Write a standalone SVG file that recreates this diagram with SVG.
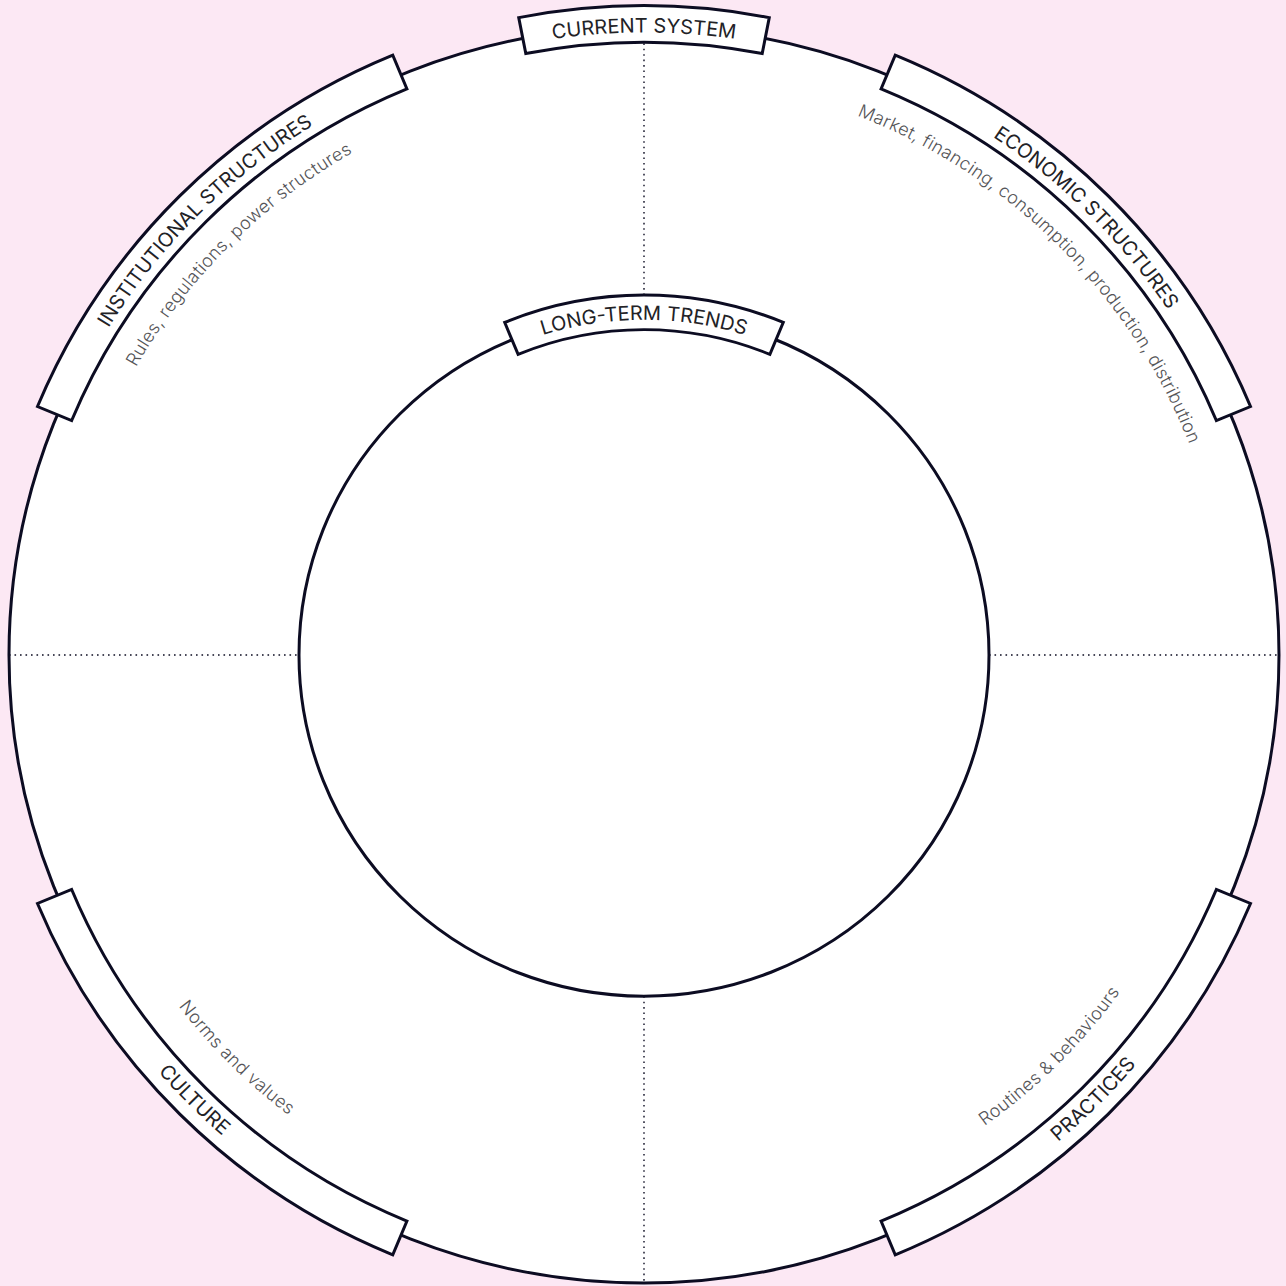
<svg xmlns="http://www.w3.org/2000/svg" width="1286" height="1286" viewBox="0 0 1286 1286">
<style>
.ring{fill:#fff;stroke:#0c0c22;stroke-width:3}
.band{fill:#fff;stroke:#0c0c22;stroke-width:3;stroke-linejoin:miter}
.dot{stroke:#0c0c22;stroke-width:1.4;stroke-dasharray:1.6 3.9;fill:none}
.lbl{font-family:Inter,'Liberation Sans',sans-serif;font-size:20px;fill:#222226}
.sub{font-family:Inter,'Liberation Sans',sans-serif;font-size:18px;font-weight:300;letter-spacing:0.3px;fill:#555558}
</style>
<defs>
<path id="p-cur" d="M -404.64 -482.23 A 629.5 629.5 0 0 1 404.64 -482.23"/>
<path id="p-inst" d="M -627.10 -54.87 A 629.5 629.5 0 0 1 -54.87 -627.10"/>
<path id="p-econ" d="M 54.87 -627.10 A 629.5 629.5 0 0 1 627.10 -54.87"/>
<path id="p-cult" d="M -640.85 56.07 A 643.3 643.3 0 0 0 -56.07 640.85"/>
<path id="p-prac" d="M 56.07 640.85 A 643.3 643.3 0 0 0 640.85 56.07"/>
<path id="p-ltt" d="M -293.58 -169.5 A 339 339 0 0 1 293.58 -169.5"/>
<path id="s-inst" d="M -565.55 151.54 A 585.5 585.5 0 0 1 151.54 -565.55"/>
<path id="s-econ" d="M -151.54 -565.55 A 585.5 585.5 0 0 1 565.55 151.54"/>
<path id="s-cult" d="M -565.55 -151.54 A 585.5 585.5 0 0 0 151.54 565.55"/>
<path id="s-prac" d="M -151.54 565.55 A 585.5 585.5 0 0 0 565.55 -151.54"/>
</defs>
<rect width="1286" height="1286" fill="#fce8f4"/>
<g transform="translate(644 655) scale(1 0.989)">
  <g id="outer-circle"><circle class="ring" cx="0" cy="0" r="635"/></g>
  <g id="connectors">
    <line class="dot" x1="0" y1="-635" x2="0" y2="-345"/>
    <line class="dot" x1="0" y1="345" x2="0" y2="635"/>
    <line class="dot" x1="-635" y1="0" x2="-345" y2="0"/>
    <line class="dot" x1="345" y1="0" x2="635" y2="0"/>
  </g>
  <g id="long-term-trends">
    <circle class="ring" cx="0" cy="0" r="345"/>
    <path class="band" d="M -139.30 -336.29 A 364 364 0 0 1 139.30 -336.29 L 125.90 -303.96 A 329 329 0 0 0 -125.90 -303.96 Z"/>
    <text class="lbl"><textPath href="#p-ltt" startOffset="50%" text-anchor="middle">LONG-TERM TRENDS</textPath></text>
  </g>
  <g id="current-system">
    <path class="band" d="M -125.27 -644.44 A 656.5 656.5 0 0 1 125.27 -644.44 L 118.21 -608.12 A 619.5 619.5 0 0 0 -118.21 -608.12 Z"/>
    <text class="lbl"><textPath href="#p-cur" startOffset="50%" text-anchor="middle">CURRENT SYSTEM</textPath></text>
  </g>
  <g id="institutional-structures">
    <path class="band" d="M -606.53 -251.23 A 656.5 656.5 0 0 1 -251.23 -606.53 L -237.07 -572.34 A 619.5 619.5 0 0 0 -572.34 -237.07 Z"/>
    <text class="lbl"><textPath href="#p-inst" startOffset="50%" text-anchor="middle">INSTITUTIONAL STRUCTURES</textPath></text>
    <text class="sub"><textPath href="#s-inst" startOffset="50%" text-anchor="middle">Rules, regulations, power structures</textPath></text>
  </g>
  <g id="economic-structures">
    <path class="band" d="M 251.23 -606.53 A 656.5 656.5 0 0 1 606.53 -251.23 L 572.34 -237.07 A 619.5 619.5 0 0 0 237.07 -572.34 Z"/>
    <text class="lbl"><textPath href="#p-econ" startOffset="50%" text-anchor="middle">ECONOMIC STRUCTURES</textPath></text>
    <text class="sub"><textPath href="#s-econ" startOffset="50%" text-anchor="middle">Market, financing, consumption, production, distribution</textPath></text>
  </g>
  <g id="practices">
    <path class="band" d="M 606.53 251.23 A 656.5 656.5 0 0 1 251.23 606.53 L 237.07 572.34 A 619.5 619.5 0 0 0 572.34 237.07 Z"/>
    <text class="lbl"><textPath href="#p-prac" startOffset="50%" text-anchor="middle">PRACTICES</textPath></text>
    <text class="sub"><textPath href="#s-prac" startOffset="50%" text-anchor="middle">Routines &amp; behaviours</textPath></text>
  </g>
  <g id="culture">
    <path class="band" d="M -251.23 606.53 A 656.5 656.5 0 0 1 -606.53 251.23 L -572.34 237.07 A 619.5 619.5 0 0 0 -237.07 572.34 Z"/>
    <text class="lbl"><textPath href="#p-cult" startOffset="50%" text-anchor="middle">CULTURE</textPath></text>
    <text class="sub"><textPath href="#s-cult" startOffset="50%" text-anchor="middle">Norms and values</textPath></text>
  </g>
</g>
</svg>
